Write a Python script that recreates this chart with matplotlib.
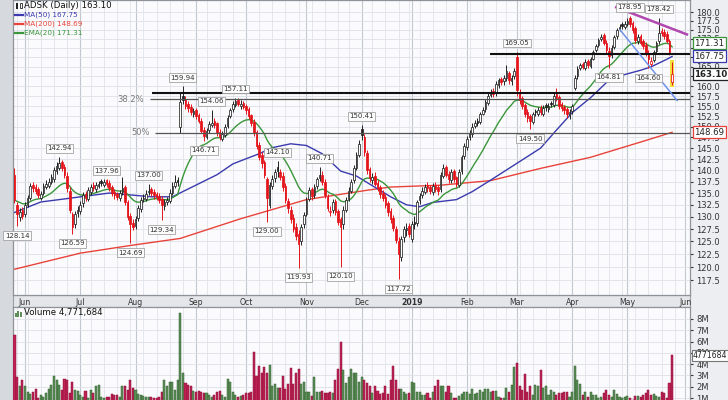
import numpy as np
import pandas as pd
import matplotlib
matplotlib.use("Agg")
import matplotlib.pyplot as plt
from matplotlib.patches import Rectangle
from matplotlib.lines import Line2D
from matplotlib.ticker import FixedLocator, NullLocator, FixedFormatter
import matplotlib.transforms as mtrans

# ---------------- data (ADSK daily, 2018-05-25 .. 2019-05-24) ----------------
opens = [139.0,132.5,130.0,131.5,130.5,132.5,134.0,136.8,136.2,135.8,
         134.0,135.0,136.2,136.5,137.5,138.0,139.8,140.5,141.8,140.8,
         138.8,135.5,130.5,128.5,130.8,131.2,132.8,134.8,133.8,135.2,
         136.8,135.8,136.5,137.6,136.8,137.8,137.2,136.2,135.2,134.8,
         134.0,135.2,136.2,133.0,130.2,128.8,128.2,129.8,131.6,133.8,
         133.8,135.2,135.8,135.2,134.8,134.4,133.8,132.2,133.0,133.4,
         135.0,136.5,137.8,150.0,157.5,156.8,155.5,154.8,153.0,154.0,
         152.8,151.5,149.2,147.5,149.2,150.5,151.5,150.8,148.8,147.2,
         148.0,150.2,152.5,154.2,155.2,156.5,155.0,155.8,155.0,154.2,
         152.8,151.2,148.8,145.8,143.5,141.8,138.0,132.5,136.5,138.2,
         140.8,139.5,138.8,136.5,133.2,131.5,129.8,128.0,126.5,125.0,
         128.5,130.5,133.8,135.8,134.5,136.5,138.2,139.0,137.5,134.2,
         131.0,131.5,133.2,131.2,129.5,128.5,131.5,133.8,135.5,137.8,
         140.5,143.5,149.5,147.5,143.8,140.2,137.8,138.8,137.2,136.2,
         135.0,134.2,132.8,131.2,129.8,127.5,125.0,122.0,125.8,127.2,
         128.2,125.5,129.0,128.8,133.5,134.5,135.2,136.8,136.2,135.2,
         136.8,136.2,135.8,138.8,140.8,139.2,137.8,139.8,138.5,136.8,
         139.8,143.2,145.2,147.5,148.2,150.2,151.5,151.2,153.2,154.2,
         155.8,157.8,158.8,158.2,160.2,161.8,161.2,162.0,163.5,161.2,
         162.5,167.5,158.5,157.0,155.2,153.5,152.5,151.2,153.8,153.2,
         154.5,153.2,155.2,154.2,155.8,155.2,158.0,157.2,155.5,154.8,
         154.2,152.8,153.8,159.5,162.5,164.8,165.8,164.8,166.5,165.2,
         167.2,169.5,170.8,172.5,173.5,171.5,169.2,168.2,170.2,173.2,
         175.2,176.5,175.8,176.5,178.2,176.8,175.5,171.8,173.2,171.8,
         170.8,168.8,165.8,166.8,169.2,171.8,174.8,174.5,173.8,171.8,
         161.0]
highs = [140.5,133.0,131.8,132.0,133.0,134.6,137.2,137.5,136.9,136.2,
         135.5,137.1,137.8,138.2,139.2,140.6,141.8,142.94,142.3,141.3,
         139.5,136.2,131.0,131.2,132.3,133.2,135.2,135.4,136.2,136.9,
         137.4,137.4,137.7,138.0,138.1,137.96,137.8,136.8,135.8,135.2,
         135.6,138.5,136.8,133.6,130.8,129.6,130.2,132.4,134.2,134.8,
         135.6,137.00,136.4,135.8,135.3,135.0,134.3,133.8,134.2,135.8,
         137.5,139.0,138.6,158.5,159.94,157.5,156.2,155.5,154.6,154.6,
         153.4,152.0,150.0,149.8,151.5,154.06,152.2,151.2,149.5,149.0,
         150.6,152.8,154.6,156.2,157.11,157.0,156.5,156.2,155.6,154.8,
         153.2,151.8,149.2,146.3,144.2,142.3,138.5,137.5,139.0,140.2,
         142.10,140.2,139.5,137.2,134.0,132.2,130.6,128.8,127.2,128.6,
         131.0,134.2,136.4,136.3,137.0,138.6,140.71,139.8,138.0,134.8,
         132.2,133.8,133.8,131.6,130.0,132.2,134.2,136.2,138.0,141.2,
         144.2,146.8,150.41,148.2,144.5,140.8,139.4,139.5,137.8,136.8,
         135.6,134.8,133.4,131.8,130.4,128.2,125.8,126.0,128.2,128.8,
         128.8,129.2,130.2,133.6,135.0,136.2,137.0,137.5,136.8,137.2,
         137.4,136.8,139.6,141.4,141.2,139.8,140.2,140.2,138.8,140.2,
         143.5,146.2,147.8,149.2,150.8,151.6,152.2,153.6,154.8,156.8,
         158.2,159.2,159.6,161.2,162.2,162.4,162.8,165.6,164.0,162.8,
         164.8,169.05,159.2,157.6,155.8,154.2,153.0,153.6,154.4,154.8,
         155.2,155.2,155.8,155.8,156.4,158.2,159.5,157.8,156.0,155.4,
         154.8,154.2,155.6,163.0,165.2,166.0,166.4,167.0,167.0,167.6,
         169.6,171.2,172.8,173.8,174.2,172.2,170.2,170.8,173.6,175.6,
         176.6,177.2,177.6,178.2,178.95,177.4,176.2,173.8,173.8,172.6,
         171.6,169.6,167.6,169.6,171.8,178.42,175.6,175.2,174.6,172.4,
         166.2]
lows = [132.8,128.14,129.2,129.5,130.0,132.0,133.5,135.2,134.8,133.9,
        133.5,134.5,135.8,136.0,137.0,137.5,139.2,140.0,139.8,138.3,
        135.2,130.8,126.59,127.8,130.0,130.6,132.0,133.2,133.2,134.5,
        135.4,135.2,136.0,136.5,136.2,136.3,135.5,134.3,133.8,133.5,
        133.4,134.6,132.5,129.3,124.69,127.2,127.6,129.2,131.0,133.1,
        133.2,134.6,134.4,133.8,133.6,132.8,129.34,131.5,132.4,132.8,
        134.6,136.0,136.6,148.5,155.6,154.2,153.6,152.8,152.3,151.8,
        150.8,148.5,146.71,147.0,148.6,150.0,149.8,147.8,146.8,146.6,
        147.5,149.8,152.0,153.5,154.8,155.0,154.2,154.2,153.2,151.8,
        150.2,147.8,144.8,142.2,140.5,138.2,129.00,131.8,135.8,137.5,
        138.6,137.8,135.5,132.8,130.8,128.8,126.8,125.2,119.93,124.3,
        127.8,130.2,133.2,133.6,134.0,135.8,137.6,136.8,134.0,131.2,
        130.2,130.8,130.4,128.4,120.10,127.6,131.0,133.2,135.0,137.2,
        140.0,143.0,146.8,143.2,139.2,137.5,137.0,136.5,135.4,134.0,
        133.4,131.8,130.2,128.8,127.0,124.6,117.72,121.2,124.8,126.0,
        125.8,124.8,127.6,128.2,132.6,134.0,134.8,135.2,134.8,134.6,
        135.2,134.6,135.2,138.2,138.4,137.2,137.2,137.4,136.2,136.2,
        139.2,142.6,144.6,146.8,147.6,149.6,150.2,150.6,152.8,153.6,
        155.2,157.2,157.2,157.6,159.6,160.2,160.4,161.4,160.6,160.4,
        161.8,157.5,155.6,154.2,152.4,151.2,149.50,150.6,152.6,152.6,
        152.8,152.6,153.8,153.6,154.8,154.8,156.2,154.4,153.8,153.2,
        152.2,151.8,153.2,159.0,161.8,164.2,164.4,164.2,164.8,164.6,
        166.8,169.0,170.2,171.8,170.8,168.8,164.81,167.4,169.8,172.6,
        174.6,175.2,175.2,176.0,175.8,174.2,171.4,171.2,170.8,169.8,
        167.8,164.60,165.2,166.2,168.6,171.2,173.2,172.6,171.4,168.2,
        160.2]
closes = [133.5,130.5,131.0,130.2,132.5,134.0,136.5,136.0,135.5,134.5,
          134.8,136.5,137.0,137.5,138.5,140.0,141.0,141.5,140.5,139.0,
          136.0,131.5,128.0,130.5,131.5,132.5,134.5,134.0,135.6,136.2,
          136.0,136.8,137.0,137.2,137.5,137.0,136.0,135.0,134.5,134.2,
          135.0,136.0,133.0,130.0,128.5,128.0,129.5,131.8,133.5,134.0,
          134.9,135.5,135.0,134.5,134.2,133.5,132.5,133.0,133.6,135.0,
          136.6,137.5,137.5,156.0,156.5,155.0,154.5,153.5,153.8,152.5,
          151.5,149.0,147.8,149.0,150.7,151.0,150.5,148.5,147.5,148.2,
          150.0,152.2,154.0,155.5,156.3,155.5,155.5,154.8,154.0,152.5,
          151.0,148.5,145.5,143.0,141.5,139.0,134.0,136.8,138.0,139.5,
          139.8,138.5,136.3,133.6,131.8,129.5,127.5,126.0,124.5,128.0,
          130.3,133.6,135.6,134.3,136.3,138.0,139.0,137.5,134.5,131.8,
          131.2,133.0,131.0,129.0,128.0,131.5,133.6,135.5,137.4,140.5,
          143.5,146.0,148.0,144.0,140.0,138.2,138.5,137.0,136.0,134.8,
          134.0,132.5,131.0,129.5,127.8,125.3,122.5,125.5,127.5,127.8,
          126.5,128.5,128.5,133.0,134.3,135.5,136.3,136.0,135.5,136.5,
          135.8,135.5,139.0,140.4,139.0,138.0,139.5,138.0,137.0,139.5,
          142.9,145.5,147.0,148.5,150.0,150.8,151.0,153.0,154.0,156.0,
          157.5,158.5,158.0,160.5,161.5,161.0,162.0,163.8,161.5,162.2,
          164.0,159.0,156.5,155.0,153.0,152.0,151.5,153.0,153.5,154.0,
          153.5,154.5,154.7,155.0,155.5,157.5,157.0,155.0,154.5,154.0,
          153.0,153.5,155.0,162.2,164.5,165.4,165.0,166.2,165.5,167.0,
          169.0,170.5,172.1,173.0,171.3,169.6,168.0,170.0,173.0,174.9,
          175.9,176.0,176.7,177.5,176.5,175.0,172.1,173.0,171.3,170.5,
          168.8,167.0,166.5,169.0,171.3,174.1,174.0,173.3,172.0,169.0,
          163.1]
volume_m = [6.57,2.90,2.07,2.60,2.02,1.49,1.37,1.49,1.78,0.98,
            1.28,1.13,1.43,1.78,2.16,2.96,2.60,2.16,1.72,2.67,
            2.60,1.43,2.45,1.72,1.66,1.28,1.13,1.66,0.98,1.72,
            1.43,2.07,2.16,1.07,0.98,1.07,1.10,1.37,1.28,1.28,
            1.13,2.07,2.02,1.72,2.60,1.87,1.72,1.37,1.28,1.19,
            1.13,1.07,1.13,0.98,0.98,1.13,1.57,2.60,2.07,2.45,
            2.45,1.72,2.60,8.56,3.19,2.31,2.16,2.02,1.66,1.57,
            1.66,1.49,1.43,1.43,1.28,1.13,1.28,1.57,1.66,1.28,
            1.13,2.67,2.45,1.49,1.28,1.13,1.20,1.30,1.43,1.40,
            1.50,5.10,2.96,3.84,3.19,3.78,3.19,3.90,2.02,2.25,
            1.87,1.87,2.96,1.81,2.25,3.63,2.25,3.19,3.54,2.25,
            2.39,1.57,1.51,1.19,2.84,1.49,1.49,1.66,1.43,1.43,
            1.49,1.43,2.60,3.54,6.00,3.49,2.31,2.84,3.54,3.25,
            3.19,2.45,2.84,2.60,2.31,2.07,1.43,2.10,1.66,1.37,
            1.43,2.10,1.37,2.60,3.84,2.60,1.78,1.78,1.57,1.37,
            1.43,2.45,2.37,1.57,1.49,1.28,1.28,1.43,0.98,1.49,
            2.02,2.60,2.02,2.02,1.57,2.07,1.43,0.98,0.98,1.22,
            1.34,1.57,1.57,1.37,1.78,1.34,1.43,1.72,1.57,1.78,
            1.78,1.57,1.66,1.66,1.07,0.98,0.98,1.93,1.49,2.16,
            3.78,4.13,2.10,1.72,3.14,1.57,2.02,1.28,2.16,2.07,
            3.49,1.87,2.07,1.28,1.72,1.57,1.28,1.43,1.43,1.57,
            1.57,1.13,1.57,3.84,2.60,2.25,1.28,1.57,1.13,1.49,
            1.28,1.28,0.98,1.13,1.43,1.72,1.28,1.13,1.72,1.37,
            1.13,0.98,1.13,1.19,0.98,0.83,1.19,1.19,1.13,1.28,
            1.43,1.72,1.28,1.37,1.19,1.07,1.57,1.43,0.98,2.37,
            4.771684]

ma50_idx = [0, 10, 17, 36, 52, 60, 70, 77, 83, 86, 93, 98, 105, 111, 117, 124, 130, 136,
            143, 149, 154, 159, 168, 174, 181, 193, 200, 206, 212, 219, 225, 232, 238, 242, 248, 250]
ma50_val = [130.9, 133.1, 133.6, 135.0, 134.2, 134.2, 137.0, 139.0, 141.4, 142.1, 143.7, 145.1,
            146.0, 145.6, 143.7, 139.8, 138.7, 136.6, 134.2, 132.5, 132.1, 133.0, 133.6, 135.3,
            137.8, 142.3, 145.0, 149.2, 153.4, 157.1, 160.9, 163.0, 164.1, 165.0, 167.0, 167.75]
ma200_idx = [0, 25, 44, 63, 86, 111, 134, 143, 162, 181, 200, 219, 238, 250]
ma200_val = [119.6, 122.7, 124.2, 125.6, 129.6, 133.6, 135.6, 136.3, 136.7, 137.7, 140.4,
             142.9, 146.4, 148.69]

# last values shown in the legend / right-hand boxes
last_close = 163.10
last_ma50 = 167.75
last_ma200 = 148.69
last_ema20 = 171.31
last_volume = 4771684

pivot_high_idx = [17, 35, 51, 64, 75, 84, 100, 116, 132, 191, 234, 245]
pivot_low_idx = [1, 22, 44, 56, 72, 96, 108, 124, 146, 196, 226, 241]

hline_vals = [168.3, 158.4, 156.7, 148.6]
hline_start = [180.8, 52.3, 51.5, 53.4]
hline_lw = [1.5, 1.5, 0.9, 0.9]
hline_col = ["#111111", "#111111", "#555555", "#555555"]
fib_labels = ["38.2%", "50%"]
fib_vals = [156.7, 148.6]

purple_idx = [228.3, 256.1]
purple_val = [181.5, 173.6]
blue_idx = [230.2, 251.9]
blue_val = [175.0, 156.4]

price_ticks = [117.5, 120.0, 122.5, 125.0, 127.5, 130.0, 132.5, 135.0, 137.5, 140.0, 142.5,
               145.0, 147.5, 150.0, 152.5, 155.0, 157.5, 160.0, 162.5, 165.0, 167.5, 170.0,
               172.5, 175.0, 177.5, 180.0]
vol_ticks_m = [1, 2, 3, 4, 5, 6, 7, 8]
vol_tick_labels = ["1M", "2M", "3M", "4M", "5M", "6M", "7M", "8M"]

holidays = ["2018-05-28", "2018-07-04", "2018-09-03", "2018-11-22", "2018-12-05",
            "2018-12-25", "2019-01-01", "2019-01-21", "2019-02-18", "2019-04-19", "2019-05-27"]

# ---------------- layout ----------------
W, H = 728, 400
fig = plt.figure(figsize=(W / 100, H / 100), dpi=100)
fig.patch.set_facecolor("#eceef1")

days = pd.bdate_range("2018-05-25", "2019-06-28")
days = days[~days.isin(pd.to_datetime(holidays))]
XMIN, XMAX = -0.57, 256.8
month_pos = [i for i in range(1, len(days)) if days[i].month != days[i - 1].month and i < XMAX]
month_lab = ["2019" if days[i].month == 1 else days[i].strftime("%b") for i in month_pos]
week_pos = [i for i in range(1, len(days)) if days[i].weekday() < days[i - 1].weekday() and i < XMAX]

# left strip and date strip (behind the axes)
fig.patches.append(Rectangle((0, 0), 13 / W, 1, transform=fig.transFigure,
                             fc="#d6d9de", ec="none", zorder=-5))
fig.patches.append(Rectangle((13 / W, 93 / H), 677 / W, 12 / H, transform=fig.transFigure,
                             fc="#e4e6ea", ec="#9a9ea5", lw=0.8, zorder=-5))

ax = fig.add_axes([13 / W, 105 / H, 677 / W, 295 / H])
axv = fig.add_axes([13 / W, -9.3 / H, 677 / W, 102.3 / H])

def P(px, py):
    return (px / W, 1 - py / H)

for a in (ax, axv):
    a.set_facecolor("#fbfbfd")
    a.set_xlim(XMIN, XMAX)
    for s in a.spines.values():
        s.set_color("#8e939a")
        s.set_linewidth(0.9)
    a.vlines(week_pos, 0, 1, transform=a.get_xaxis_transform(), colors="#e1e4e9", lw=0.6, zorder=0)
    a.vlines(month_pos, 0, 1, transform=a.get_xaxis_transform(), colors="#c3c8d0", lw=0.8, zorder=0)

# ---------------- price panel ----------------
ax.set_yscale("log")
ax.set_ylim(114.8, 183.5)
ax.hlines(price_ticks, XMIN, XMAX, colors="#dde0e6", lw=0.6, zorder=0)
ax.yaxis.set_major_locator(FixedLocator(price_ticks))
ax.yaxis.set_major_formatter(FixedFormatter(["%.1f" % t for t in price_ticks]))
ax.yaxis.set_minor_locator(NullLocator())
ax.tick_params(axis="y", which="both", left=False, right=True, labelleft=False, labelright=True,
               length=2.5, pad=2, labelsize=6, colors="#333333")
ax.xaxis.set_major_locator(FixedLocator(month_pos))
ax.xaxis.set_major_formatter(FixedFormatter(month_lab))
ax.xaxis.set_minor_locator(NullLocator())
ax.tick_params(axis="x", length=0, pad=2.0, labelsize=5.6, colors="#333333")
for lbl in ax.get_xticklabels():
    if lbl.get_text() == "2019":
        lbl.set_fontweight("bold")

o = np.array(opens); h = np.array(highs); l = np.array(lows); c = np.array(closes)
x = np.arange(len(c))
prev = np.r_[o[0], c[:-1]]
down = c < prev
col = np.where(down, "#e4141b", "#222222")
face = np.where(c >= o, "#ffffff", col)

# yellow highlight on last bar
ax.bar(x[-1], h[-1] - l[-1] + 1.0, bottom=l[-1] - 0.5, width=1.5, color="#f5df3c", zorder=1)

# moving averages
ema20 = pd.Series(c).ewm(span=20, adjust=False).mean()
ax.plot(ma200_idx, ma200_val, color="#e8433b", lw=1.0, zorder=2)
ax.plot(ma50_idx, ma50_val, color="#3a3aae", lw=1.0, zorder=2)
ax.plot(x, ema20, color="#3a963a", lw=1.0, zorder=2)

ax.vlines(x, l, h, colors=col, lw=0.7, zorder=3)
ax.bar(x, np.maximum(np.abs(c - o), 0.08), bottom=np.minimum(o, c), width=0.62,
       color=face, edgecolor=col, linewidth=0.55, zorder=4)

# annotation lines
for v, s, lw_, cl in zip(hline_vals, hline_start, hline_lw, hline_col):
    ax.hlines(v, s, XMAX, colors=cl, lw=lw_, zorder=5)
for t, v, s in zip(fib_labels, fib_vals, [hline_start[2], hline_start[3]]):
    ax.annotate(t, xy=(s, v), xytext=(-4, 0), textcoords="offset points", ha="right",
                va="center", fontsize=6, color="#7a7a7a", zorder=6)
ax.plot(purple_idx, purple_val, color="#b048b0", lw=1.8, zorder=5, solid_capstyle="butt")
ax.plot(blue_idx, blue_val, color="#6f93ea", lw=1.1, zorder=5)

# pivot labels
box = dict(boxstyle="square,pad=0.2", fc="#fbfbfb", ec="#a3a3a3", lw=0.6)
for i in pivot_high_idx:
    ax.annotate("%.2f" % highs[i], xy=(i, highs[i]), xytext=(0, 6.2), textcoords="offset points",
                ha="center", va="center", fontsize=5, color="#333333", bbox=box, zorder=7,
                annotation_clip=False)
for i in pivot_low_idx:
    ax.annotate("%.2f" % lows[i], xy=(i, lows[i]), xytext=(0, -7.0), textcoords="offset points",
                ha="center", va="center", fontsize=5, color="#333333", bbox=box, zorder=7,
                annotation_clip=False)

# right-side value boxes
bt = mtrans.blended_transform_factory(ax.transAxes, ax.transData)
def vbox(a, tr, y, s, ec, bold=False, fs=6.2):
    a.text(1.006, y, s, transform=tr, ha="left", va="center", fontsize=fs, color="#222222",
           fontweight="bold" if bold else "normal", clip_on=False, zorder=20,
           bbox=dict(boxstyle="square,pad=0.18", fc="white", ec=ec, lw=0.9))
vbox(ax, bt, last_ema20, "%.2f" % last_ema20, "#3a963a")
vbox(ax, bt, last_ma50, "%.2f" % last_ma50, "#3a3aae")
vbox(ax, bt, last_close, "%.2f" % last_close, "#222222", bold=True)
vbox(ax, bt, last_ma200, "%.2f" % last_ma200, "#e8433b")

# legend (top-left)
fig.patches.append(Rectangle(P(16, 9), 2 / W, 6 / H, transform=fig.transFigure, fc="#222222", ec="none"))
fig.patches.append(Rectangle(P(19.5, 8), 2 / W, 5 / H, transform=fig.transFigure, fc="white", ec="#222222", lw=0.6))
fig.text(*P(24.5, 5.5), "ADSK (Daily) %.2f" % last_close, fontsize=6.2, color="#111111", va="center", ha="left")
leg = [("MA(50) %.2f" % last_ma50, "#3a3aae", 14.5),
       ("MA(200) %.2f" % last_ma200, "#e8433b", 23.5),
       ("EMA(20) %.2f" % last_ema20, "#3a963a", 32.5)]
for txt, cl, yy in leg:
    fig.lines.append(Line2D([15 / W, 23 / W], [1 - yy / H, 1 - yy / H], transform=fig.transFigure,
                            color=cl, lw=1.6))
    fig.text(*P(23.5, yy), txt, fontsize=5.2, color=cl, va="center", ha="left")

# ---------------- volume panel ----------------
vol = np.array(volume_m) * 1e6
vface = np.where(down, "#bd2253", "#5e8f58")
vedge = np.where(down, "#8c1038", "#2f5c2c")
axv.set_ylim(0, 9.06e6)
axv.hlines(np.array(vol_ticks_m) * 1e6, XMIN, XMAX, colors="#dde0e6", lw=0.6, zorder=0)
axv.bar(x, vol, width=0.78, color=vface, edgecolor=vedge, linewidth=0.35, zorder=3)
axv.yaxis.set_major_locator(FixedLocator(np.array(vol_ticks_m) * 1e6))
axv.yaxis.set_major_formatter(FixedFormatter(vol_tick_labels))
axv.tick_params(axis="y", left=False, right=True, labelleft=False, labelright=True,
                length=2.5, pad=2, labelsize=6, colors="#333333")
axv.set_xticks([])
btv = mtrans.blended_transform_factory(axv.transAxes, axv.transData)
axv.text(1.004, last_volume, "%d" % last_volume, transform=btv, ha="left", va="center",
         fontsize=5.6, color="#222222", clip_on=False, zorder=20,
         bbox=dict(boxstyle="square,pad=0.12", fc="white", ec="#777777", lw=0.8))
for k, hh in enumerate([4, 6, 5]):
    fig.patches.append(Rectangle(P(15 + 2.4 * k, 317), 1.8 / W, hh / H, transform=fig.transFigure,
                                 fc="#5e8f58", ec="none"))
fig.text(*P(24.5, 313), "Volume {:,}".format(last_volume), fontsize=6.2,
         color="#111111", va="center", ha="left")

fig.savefig("out.png", dpi=100, facecolor=fig.get_facecolor())
